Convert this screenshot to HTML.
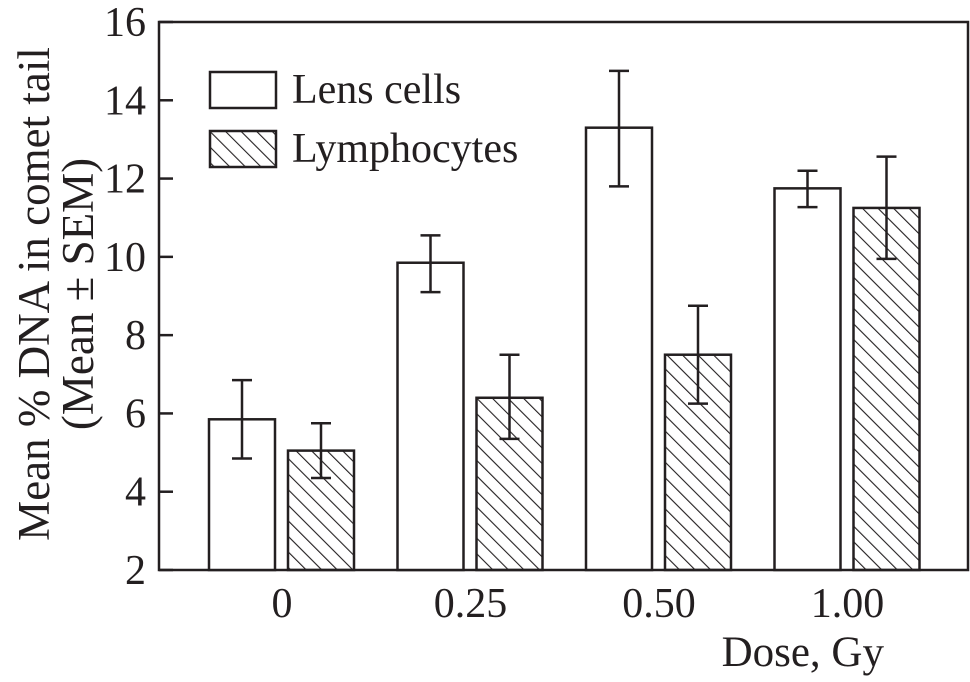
<!DOCTYPE html>
<html><head><meta charset="utf-8"><style>
body{margin:0;background:#fff;}
svg text{font-family:"Liberation Serif",serif;fill:#231f20;}
</style></head><body>
<svg id="chart" width="970" height="677" viewBox="0 0 970 677">
<defs>
<pattern id="hatch" patternUnits="userSpaceOnUse" width="11" height="11" patternTransform="rotate(-45)">
<line x1="0" y1="0" x2="0" y2="11" stroke="#231f20" stroke-width="2.2"/>
</pattern>
</defs>
<g id="plot"></g>
</svg>
<script>
const categories=["0","0.25","0.50","1.00"];
const lensValues=[5.85,9.85,13.3,11.75];
const lensErrLow=[4.85,9.1,11.8,11.27];
const lensErrHigh=[6.85,10.55,14.75,12.2];
const lymphValues=[5.05,6.4,7.5,11.25];
const lymphErrLow=[4.35,5.35,6.25,9.95];
const lymphErrHigh=[5.75,7.5,8.75,12.56];
const yTicks=[2,4,6,8,10,12,14,16];

const NS="http://www.w3.org/2000/svg";
const g=document.getElementById('plot');
const L=159,R=968,T=22,B=570,ymin=2,ymax=16;
const FS=42;
const y=v=>B-(v-ymin)*(B-T)/(ymax-ymin);
const groupCenter=i=>282+i*188.5;
const BW=66;
function mk(tag,attrs,parent){const e=document.createElementNS(NS,tag);for(const k in attrs)e.setAttribute(k,attrs[k]);(parent||g).appendChild(e);return e;}
const S="#231f20";
let fr=mk('rect',{x:L,y:T,width:R-L,height:B-T,fill:'none',stroke:S,'stroke-width':2.5});


yTicks.forEach(v=>{
  let t=mk('line',{x1:L,x2:L+14,y1:y(v),y2:y(v),stroke:S,'stroke-width':2.5});
  
  
  let tx=mk('text',{x:L-13,y:y(v)+14,'text-anchor':'end','font-size':FS});
  tx.textContent=v;
  
  
});
function bar(x,v,lo,hi,fill,name){
  let r=mk('rect',{x:x,y:y(v),width:BW,height:B-y(v),fill:fill,stroke:S,'stroke-width':2.5});
  
  
  const cx=x+BW/2;
  let e=mk('path',{d:`M${cx},${y(lo)}V${y(hi)}M${cx-10},${y(lo)}H${cx+10}M${cx-10},${y(hi)}H${cx+10}`,stroke:S,'stroke-width':2.5,fill:'none'});
  
  
}
categories.forEach((c,i)=>{
  const cx=groupCenter(i);
  bar(cx-73,lensValues[i],lensErrLow[i],lensErrHigh[i],'#fff','bar-lens-'+i);
  bar(cx+6,lymphValues[i],lymphErrLow[i],lymphErrHigh[i],'url(#hatch)','bar-lymph-'+i);
  let tx=mk('text',{x:cx,y:617,'text-anchor':'middle','font-size':FS});
  tx.textContent=c;
  
  
});
[['#fff','Lens cells',72],['url(#hatch)','Lymphocytes',131]].forEach(([f,lab,yy],i)=>{
  let r=mk('rect',{x:210,y:yy,width:66,height:36,fill:f,stroke:S,'stroke-width':2.5});
  
  
  let t=mk('text',{x:292,y:yy+31,'font-size':FS});
  t.textContent=lab;
  
  
});
let xt=mk('text',{x:884,y:666,'text-anchor':'end','font-size':43});
xt.textContent='Dose, Gy';


let yt=mk('text',{transform:'translate(49,294) rotate(-90)','text-anchor':'middle','font-size':45});
yt.textContent='Mean % DNA in comet tail';


let yt2=mk('text',{transform:'translate(93,294) rotate(-90)','text-anchor':'middle','font-size':45});
yt2.textContent='(Mean ± SEM)';


</script>
</body></html>
